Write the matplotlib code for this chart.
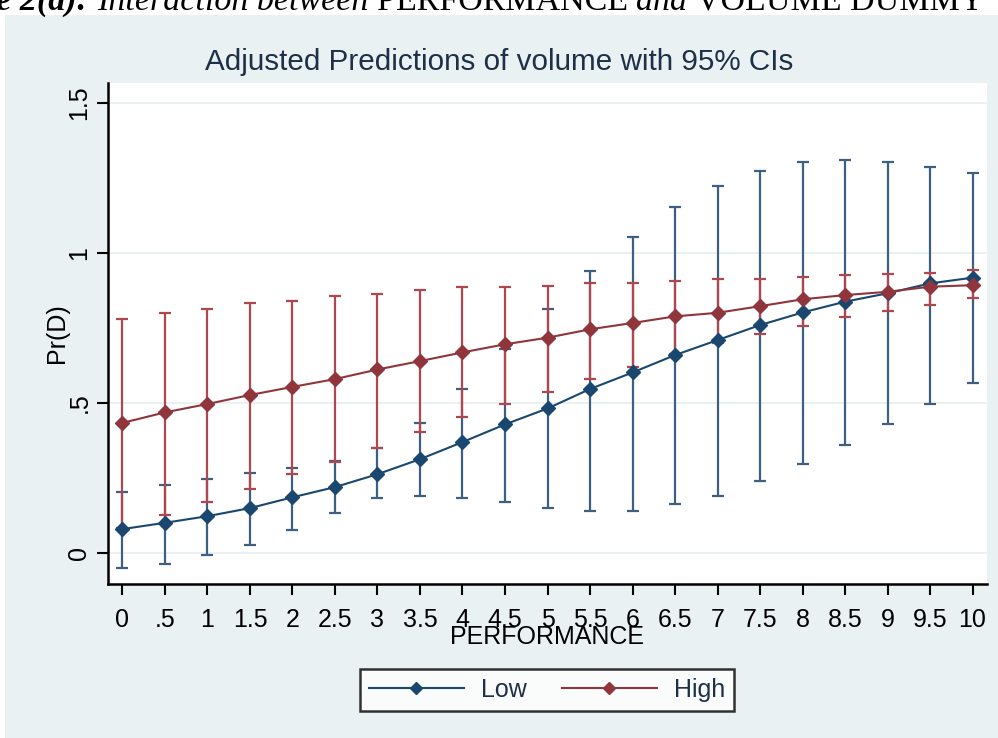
import matplotlib
matplotlib.use("Agg")
import matplotlib.pyplot as plt
from matplotlib.patches import Rectangle

# values
performance = [0, 0.5, 1, 1.5, 2, 2.5, 3, 3.5, 4, 4.5, 5,
               5.5, 6, 6.5, 7, 7.5, 8, 8.5, 9, 9.5, 10]
tick_labels = ["0", ".5", "1", "1.5", "2", "2.5", "3", "3.5", "4", "4.5", "5",
               "5.5", "6", "6.5", "7", "7.5", "8", "8.5", "9", "9.5", "10"]

low_pred = [0.080, 0.101, 0.123, 0.150, 0.186, 0.220, 0.263, 0.313, 0.370, 0.429, 0.482,
            0.547, 0.602, 0.660, 0.710, 0.760, 0.802, 0.838, 0.866, 0.899, 0.918]
low_upper = [0.204, 0.226, 0.248, 0.268, 0.283, 0.308, 0.349, 0.432, 0.546, 0.680, 0.813,
             0.940, 1.054, 1.154, 1.223, 1.274, 1.303, 1.309, 1.302, 1.288, 1.266]
low_lower = [-0.051, -0.036, -0.008, 0.028, 0.078, 0.134, 0.184, 0.190, 0.184, 0.169, 0.149,
             0.141, 0.141, 0.162, 0.190, 0.240, 0.297, 0.360, 0.431, 0.496, 0.568]

high_pred = [0.434, 0.469, 0.497, 0.527, 0.554, 0.580, 0.612, 0.640, 0.669, 0.696, 0.718,
             0.746, 0.767, 0.789, 0.801, 0.823, 0.846, 0.860, 0.871, 0.888, 0.893]
high_upper = [0.779, 0.799, 0.813, 0.834, 0.841, 0.857, 0.862, 0.877, 0.886, 0.886, 0.891,
              0.899, 0.899, 0.907, 0.913, 0.913, 0.919, 0.927, 0.929, 0.934, 0.943]
high_lower = [0.085, 0.127, 0.169, 0.212, 0.262, 0.304, 0.350, 0.402, 0.453, 0.496, 0.538,
              0.579, 0.620, 0.665, 0.700, 0.730, 0.758, 0.786, 0.808, 0.827, 0.849]

series_names = ["Low", "High"]
y_ticks = [0, 0.5, 1, 1.5]
y_tick_labels = ["0", ".5", "1", "1.5"]

navy = "#1a476f"
maroon = "#90353b"
navy_ci = "#3d5f80"
maroon_ci = "#b0474f"
bg = "#eaf1f3"
text_col = "#1e2f47"

plt.rcParams["font.family"] = ["Liberation Sans", "DejaVu Sans"]

fig = plt.figure(figsize=(9.98, 7.38), dpi=100)
fig.patch.set_facecolor("white")

# stata graph region
fig.add_artist(Rectangle((5 / 998, 0), 1, 723 / 738, transform=fig.transFigure,
                         facecolor=bg, edgecolor="none", zorder=0))

ax = fig.add_axes([108 / 998, 1 - 584 / 738, 879 / 998, 501 / 738])
ax.set_facecolor("white")

# cropped caption from the paper, its top is cut off by the page edge
cap = fig.text(-0.085, 0.987, "Figure 2(a): ", fontsize=24.5, family="Liberation Serif",
               weight="bold", style="italic", va="baseline", ha="left")
pieces = [("Interaction between ", "italic"),
          ("PERFORMANCE ", "normal"),
          ("and ", "italic"),
          ("VOLUME DUMMY", "normal")]
prev = cap
for txt, st in pieces:
    prev = ax.annotate(txt, xy=(1, 0.987), xycoords=(prev, "figure fraction"),
                       fontsize=24.5, family="Liberation Serif", style=st,
                       va="baseline", ha="left", annotation_clip=False)

# confidence intervals
for pred, lo, hi, c in [(low_pred, low_lower, low_upper, navy_ci),
                        (high_pred, high_lower, high_upper, maroon_ci)]:
    yerr = [[p - l for p, l in zip(pred, lo)], [h - p for p, h in zip(pred, hi)]]
    ax.errorbar(performance, pred, yerr=yerr, fmt="none", ecolor=c,
                elinewidth=1.6, capsize=4, capthick=1.6, zorder=2)

# predictions
ax.plot(performance, low_pred, color=navy, lw=1.5, marker="D", markersize=7.5,
        markeredgecolor=navy, label=series_names[0], zorder=3)
ax.plot(performance, high_pred, color=maroon, lw=1.5, marker="D", markersize=7.5,
        markeredgecolor=maroon, label=series_names[1], zorder=3)

ax.set_xlim(-0.17, 10.17)
ax.set_ylim(-0.103, 1.567)
ax.set_xticks(performance)
ax.set_xticklabels(tick_labels)
ax.set_yticks(y_ticks)
ax.set_yticklabels(y_tick_labels, rotation=90, va="center")
ax.tick_params(axis="both", labelsize=18, length=8, width=1.5, colors="black")
ax.tick_params(axis="x", pad=9)
ax.tick_params(axis="y", pad=4)
ax.grid(axis="y", color="#e8eff1", lw=1.2)
ax.set_axisbelow(True)

for side in ["top", "right"]:
    ax.spines[side].set_visible(False)
for side in ["left", "bottom"]:
    ax.spines[side].set_linewidth(1.8)

ax.set_xlabel("PERFORMANCE", fontsize=18, labelpad=-4.5)
ax.set_ylabel("Pr(D)", fontsize=18, labelpad=-1)
fig.text(0.5, 1 - 62 / 738, "Adjusted Predictions of volume with 95% CIs",
         fontsize=21.3, color=text_col, ha="center", va="center")

leg = fig.legend(loc="center", bbox_to_anchor=(547 / 998, 1 - 690 / 738), ncol=2,
                 fontsize=18, handlelength=3.8, handletextpad=0.7, columnspacing=1.4,
                 frameon=True, fancybox=False, edgecolor="black", borderpad=0.35,
                 markerscale=0.8)
leg.get_frame().set_linewidth(1.8)
for t in leg.get_texts():
    t.set_color(text_col)

fig.savefig("out.png", dpi=100, facecolor=fig.get_facecolor())
